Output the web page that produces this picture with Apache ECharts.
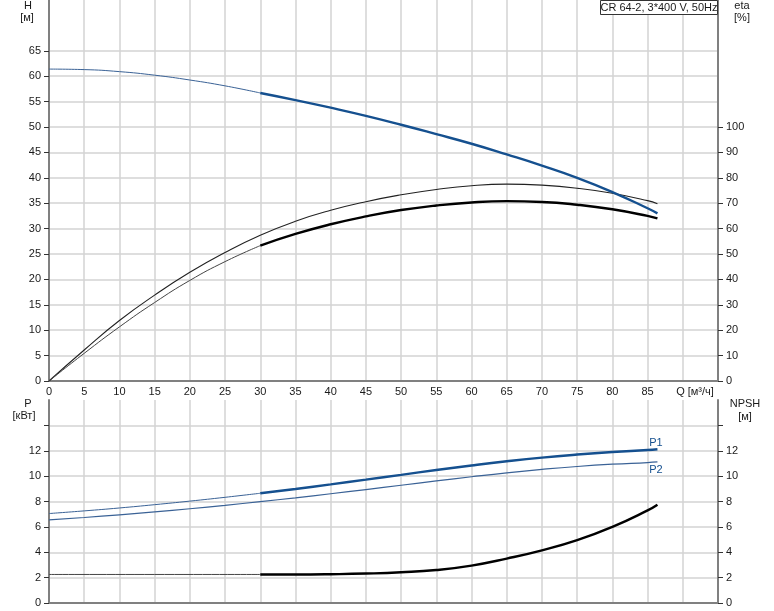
<!DOCTYPE html>
<html>
<head>
<meta charset="utf-8">
<script src="https://cdn.jsdelivr.net/npm/echarts@6/dist/echarts.min.js"></script>
<style>
html,body{margin:0;padding:0;background:#fff;}
#c{width:774px;height:611px;}
</style>
</head>
<body>
<div id="c"></div>
<script>
// ---- data ----
const qFull = [0,5,10,15,20,25,30,35,40,45,50,55,60,65,70,75,80,85,86.4];
const qLow = [0,5,10,15,20,25,30];
const qHigh = [30,35,40,45,50,55,60,65,70,75,80,85,86.4];

const hLow = [61.4,61.3,60.9,60.2,59.25,58.1,56.7];
const hHigh = [56.7,55.3,53.8,52.2,50.45,48.6,46.7,44.6,42.4,40.0,37.2,34.0,33.0];

const etaTotal = [0,12.2,23.8,33.8,42.8,50.6,57.4,62.9,67.2,70.6,73.3,75.4,76.9,77.5,77.1,75.9,73.9,71.0,69.8];
const etaLow = [0,10.9,21.3,30.9,39.6,47.0,53.3];
const etaHigh = [53.3,57.9,61.7,64.8,67.3,69.1,70.3,70.8,70.5,69.4,67.6,65.0,64.0];

const p1Low = [7.05,7.26,7.49,7.75,8.03,8.33,8.65];
const p1High = [8.65,8.99,9.35,9.72,10.1,10.48,10.84,11.17,11.46,11.7,11.9,12.06,12.12];
const p2 = [6.55,6.74,6.95,7.18,7.43,7.7,7.99,8.29,8.61,8.94,9.28,9.62,9.95,10.26,10.53,10.76,10.94,11.07,11.12];

const npshLowQ = [0,30];
const npshLow = [2.25,2.25];
const npshHigh = [2.25,2.25,2.27,2.32,2.42,2.6,2.95,3.5,4.15,4.95,6.0,7.3,7.75];

const qTicks = [0,5,10,15,20,25,30,35,40,45,50,55,60,65,70,75,80,85];
const hTicks = [0,5,10,15,20,25,30,35,40,45,50,55,60,65];
const etaTicks = [0,10,20,30,40,50,60,70,80,90,100];
const pTicks = [0,2,4,6,8,10,12];
const pTickMarks = [0,2,4,6,8,10,12,14];

const title = 'CR 64-2, 3*400 V, 50Hz';

// ---- chart ----
const zip = (xs, ys) => xs.map((x, i) => [x, ys[i]]);
const FONT = 'Liberation Sans, Arial, sans-serif';
const gridColor = '#d3d3d3';
const axisColor = '#808080';
const txt = '#1a1a1a';
const blueThick = '#15508f';
const blueThin = '#3a6296';

const chart = echarts.init(document.getElementById('c'), null, {renderer:'canvas'});

function xAxis(gi, showLabels){
  return {
    type:'value', gridIndex:gi, min:0, max:95, interval:5,
    axisLine:{show:true, onZero:false, lineStyle:{color:axisColor, width:2}},
    axisTick:{show:false},
    axisLabel:{show:showLabels, customValues:qTicks, margin:5, color:txt, fontFamily:FONT, fontSize:11},
    splitLine:{show:true, lineStyle:{color:gridColor, width:1.5}}
  };
}
function yAxis(gi, pos, max, interval, labelVals, tickVals, split){
  return {
    type:'value', gridIndex:gi, position:pos, min:0, max:max, interval:interval,
    axisLine:{show:true, onZero:false, lineStyle:{color:axisColor, width:2}},
    axisTick:{show:true, inside:false, length:5, customValues:tickVals, lineStyle:{color:'#333', width:1}},
    axisLabel:{show:true, customValues:labelVals, margin:8, color:txt, fontFamily:FONT, fontSize:11},
    splitLine:{show:split, lineStyle:{color:gridColor, width:1.5}}
  };
}

function line(name, data, xi, yi, color, width, z){
  return {
    name:name, type:'line', xAxisIndex:xi, yAxisIndex:yi, data:data,
    smooth:0.5, showSymbol:false, symbol:'none', silent:true, z:z||2,
    lineStyle:{color:color, width:width}
  };
}

const option = {
  animation:false,
  backgroundColor:'#fff',
  textStyle:{fontFamily:FONT},
  grid:[
    {left:49, right:56, top:0, bottom:230, containLabel:false},
    {left:49, right:56, top:400, bottom:8, containLabel:false}
  ],
  xAxis:[ xAxis(0, true), xAxis(1, false) ],
  yAxis:[
    yAxis(0, 'left', 75, 5, hTicks, hTicks, true),
    yAxis(0, 'right', 150, 10, etaTicks, etaTicks, false),
    yAxis(1, 'left', 16, 2, pTicks, pTickMarks, true),
    yAxis(1, 'right', 16, 2, pTicks, pTickMarks, false)
  ],
  series:[
    line('eta total', zip(qFull, etaTotal), 0, 1, '#222', 1.1, 3),
    line('eta low', zip(qLow, etaLow), 0, 1, '#444', 1, 3),
    line('eta', zip(qHigh, etaHigh), 0, 1, '#000', 2.4, 4),
    line('H low', zip(qLow, hLow), 0, 0, blueThin, 1, 5),
    line('H', zip(qHigh, hHigh), 0, 0, blueThick, 2.4, 6),
    line('P2', zip(qFull, p2), 1, 2, blueThin, 1.2, 3),
    line('P1 low', zip(qLow, p1Low), 1, 2, blueThin, 1, 3),
    line('P1', zip(qHigh, p1High), 1, 2, blueThick, 2.4, 4),
    line('NPSH low', zip(npshLowQ, npshLow), 1, 3, '#444', 1, 3),
    line('NPSH', zip(qHigh, npshHigh), 1, 3, '#000', 2.4, 4)
  ],
  graphic:[
    {type:'text', x:28, y:6, style:{text:'H', fill:txt, font:'11px '+FONT, align:'center', verticalAlign:'middle'}},
    {type:'text', x:27, y:18, style:{text:'[м]', fill:txt, font:'11px '+FONT, align:'center', verticalAlign:'middle'}},
    {type:'text', x:742, y:6, style:{text:'eta', fill:txt, font:'11px '+FONT, align:'center', verticalAlign:'middle'}},
    {type:'text', x:742, y:18, style:{text:'[%]', fill:txt, font:'11px '+FONT, align:'center', verticalAlign:'middle'}},
    {type:'text', x:28, y:404, style:{text:'P', fill:txt, font:'11px '+FONT, align:'center', verticalAlign:'middle'}},
    {type:'text', x:24, y:416, style:{text:'[кВт]', fill:txt, font:'11px '+FONT, align:'center', verticalAlign:'middle'}},
    {type:'text', x:745, y:404, style:{text:'NPSH', fill:txt, font:'11px '+FONT, align:'center', verticalAlign:'middle'}},
    {type:'text', x:745, y:417, style:{text:'[м]', fill:txt, font:'11px '+FONT, align:'center', verticalAlign:'middle'}},
    {type:'text', x:695, y:392, style:{text:'Q [м³/ч]', fill:txt, font:'11px '+FONT, align:'center', verticalAlign:'middle'}},
    {type:'text', x:656, y:443, style:{text:'P1', fill:blueThick, font:'11px '+FONT, align:'center', verticalAlign:'middle'}, z:10},
    {type:'text', x:656, y:470, style:{text:'P2', fill:blueThick, font:'11px '+FONT, align:'center', verticalAlign:'middle'}, z:10},
    {type:'rect', shape:{x:600.5, y:0.5, width:117, height:14}, style:{fill:'#fff', stroke:'#333', lineWidth:1}, z:20},
    {type:'text', x:659, y:8, style:{text:title, fill:txt, font:'11px '+FONT, align:'center', verticalAlign:'middle'}, z:21}
  ]
};
chart.setOption(option);
</script>
</body>
</html>
